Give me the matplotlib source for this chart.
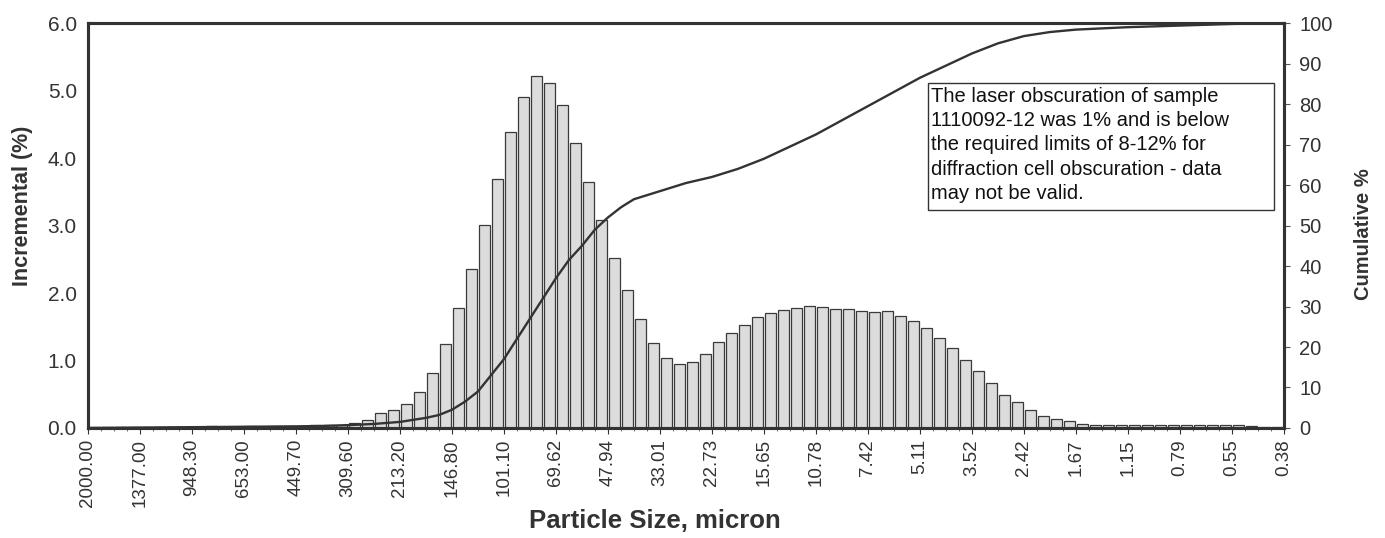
import matplotlib
matplotlib.use("Agg")
import matplotlib.pyplot as plt
import numpy as np

plt.rcParams['font.family'] = ['Liberation Sans', 'DejaVu Sans']

# channel edges shown on the axis (every 4th edge of 93)
size_labels = ["2000.00", "1377.00", "948.30", "653.00", "449.70", "309.60",
               "213.20", "146.80", "101.10", "69.62", "47.94", "33.01",
               "22.73", "15.65", "10.78", "7.42", "5.11", "3.52",
               "2.42", "1.67", "1.15", "0.79", "0.55", "0.38"]

# incremental volume % per channel (92 channels, coarse -> fine)
incremental = [0.01, 0.01, 0.02, 0.01, 0.02, 0.02, 0.01, 0.02, 0.02, 0.03,
               0.02, 0.02, 0.03, 0.02, 0.03, 0.03, 0.03, 0.04, 0.04, 0.05,
               0.07,
               0.12, 0.22, 0.27, 0.36, 0.53, 0.82, 1.25, 1.78, 2.36, 3.01,
               3.69, 4.38, 4.91, 5.21, 5.12, 4.78, 4.23, 3.65, 3.08, 2.52,
               2.05, 1.62, 1.26, 1.03,
               0.95, 0.98, 1.10, 1.27, 1.41, 1.52, 1.64, 1.70, 1.75, 1.78,
               1.81, 1.80, 1.77, 1.76, 1.74, 1.72, 1.74, 1.66, 1.58, 1.48,
               1.33, 1.19, 1.01, 0.84, 0.67, 0.49, 0.38, 0.27, 0.18, 0.13,
               0.10, 0.06,
               0.05, 0.05, 0.04, 0.04, 0.04, 0.04, 0.05, 0.05, 0.05, 0.05,
               0.04, 0.04, 0.03, 0.02, 0.01]

# cumulative % read at channel edge index
cum_edge = [0, 4, 8, 12, 16, 18, 20, 22, 24, 26, 27, 28, 29, 30, 31, 32, 33,
            34, 35, 36, 37, 38, 39, 40, 41, 42, 44, 46, 48, 50, 52, 54, 56,
            58, 60, 62, 64, 66, 68, 70, 72, 74, 76, 80, 84, 88, 92]
cum_pct = [0, 0.1, 0.2, 0.3, 0.4, 0.5, 0.7, 1.0, 1.5, 2.5, 3.2, 4.5, 6.5,
           9, 13, 17, 22, 27, 32, 37, 41.5, 45, 49, 52, 54.5, 56.5, 58.5,
           60.5, 62, 64, 66.5, 69.5, 72.5, 76, 79.5, 83, 86.5, 89.5, 92.5,
           95, 96.8, 97.8, 98.4, 99.0, 99.4, 99.8, 100]

note = ("The laser obscuration of sample\n"
        "1110092-12 was 1% and is below\n"
        "the required limits of 8-12% for\n"
        "diffraction cell obscuration - data\n"
        "may not be valid.")

fig = plt.figure(figsize=(13.85, 5.38), dpi=100)
ax = fig.add_axes([0.0635, 0.2045, 0.8635, 0.7525])

xpos = np.arange(len(incremental)) + 0.5
ax.bar(xpos, incremental, width=0.86, color='#dcdcdc', edgecolor='#3a3a3a',
       linewidth=0.9, zorder=2)

ax.set_xlim(0, len(incremental))
ax.set_ylim(0, 6)
yt = np.arange(0, 6.01, 1.0)
ax.set_yticks(yt)
ax.set_yticklabels(["%.1f" % v for v in yt], fontsize=15, color='#333333')
ax.set_xticks(np.arange(0, len(incremental) + 1, 4))
ax.set_xticks(np.arange(0, len(incremental) + 1), minor=True)
ax.set_xticklabels(size_labels, rotation=90, fontsize=13.5, color='#333333')
ax.tick_params(axis='x', which='major', length=4, pad=4, color='#333333')
ax.tick_params(axis='x', which='minor', length=2, color='#555555')
ax.tick_params(axis='y', length=0, pad=8)
ax.set_ylabel("Incremental (%)", fontsize=15.5, fontweight='bold', color='#333333')
ax.yaxis.set_label_coords(-0.046, 0.55)
ax.set_xlabel("Particle Size, micron", fontsize=18.5, fontweight='bold', color='#333333')
ax.xaxis.set_label_coords(0.474, -0.2)

ax2 = ax.twinx()
ax2.plot(cum_edge, cum_pct, color='#333333', linewidth=1.7, zorder=3)
ax2.set_ylim(0, 100)
ax2.set_yticks(np.arange(0, 101, 10))
ax2.tick_params(axis='y', labelsize=14.5, labelcolor='#333333', length=4, pad=7,
                color='#555555')
ax2.set_ylabel("Cumulative %", fontsize=14.5, fontweight='bold', color='#333333')
ax2.yaxis.set_label_coords(1.059, 0.48)

for a in (ax, ax2):
    for s in a.spines.values():
        s.set_linewidth(2.2)
        s.set_color('#333333')

# note box
ax.add_patch(plt.Rectangle((0.702, 0.538), 0.29, 0.314, transform=ax.transAxes,
                           facecolor='white', edgecolor='#333333', linewidth=1.0,
                           zorder=5))
ax2.text(0.705, 0.843, note, transform=ax.transAxes, fontsize=14.5, va='top',
         ha='left', linespacing=1.36, zorder=6, color='#111111')

fig.savefig("out.png", dpi=100)
